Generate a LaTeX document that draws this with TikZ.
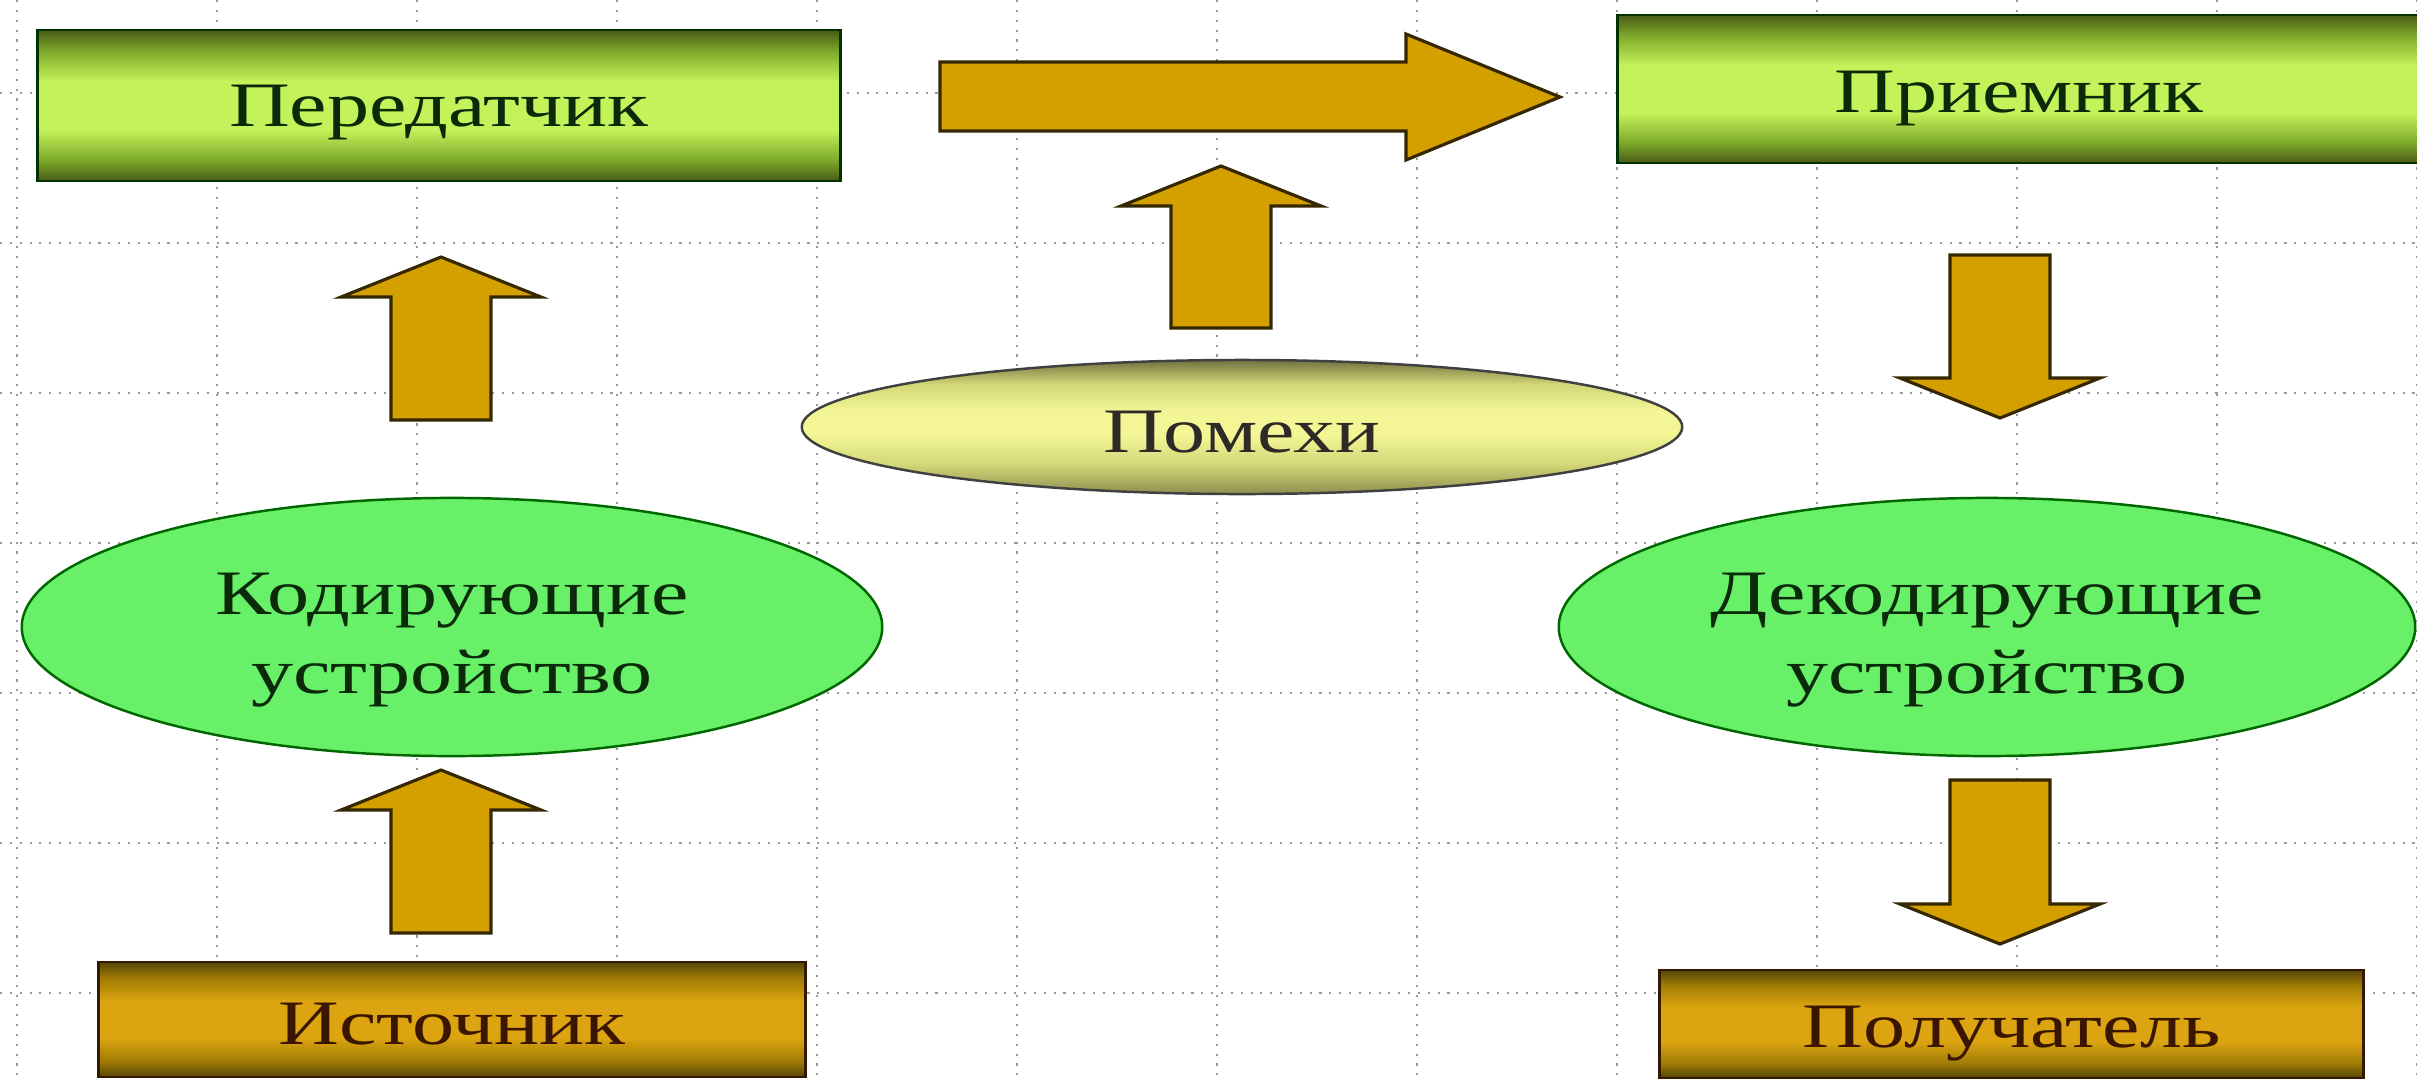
\documentclass[tikz,border=0pt]{standalone}
\usepackage{fontspec}
\usepackage{graphicx}
\setmainfont{Liberation Serif}
\usetikzlibrary{shapes.geometric}
\definecolor{gdark}{HTML}{4A5A16}
\definecolor{gmid}{HTML}{7DAA2A}
\definecolor{glight}{HTML}{C4F25A}
\definecolor{odark}{HTML}{544406}
\definecolor{omid}{HTML}{A07C06}
\definecolor{olight}{HTML}{DCA410}
\definecolor{ydark}{HTML}{8E8E50}
\definecolor{ymid}{HTML}{D2D676}
\definecolor{ylight}{HTML}{F4F696}
\definecolor{ellgreen}{HTML}{68F068}
\definecolor{arrowgold}{HTML}{D4A000}
\definecolor{txtgreen}{HTML}{0A2A0A}
\definecolor{txtbrown}{HTML}{3A1600}
% TikZ maps the path onto the band 25bp..75bp of a 100bp shading
\pgfdeclareverticalshading{greenbar}{100bp}{color(0bp)=(gdark); color(25bp)=(gdark); color(32bp)=(gmid); color(42bp)=(glight); color(58bp)=(glight); color(68bp)=(gmid); color(75bp)=(gdark); color(100bp)=(gdark)}
\pgfdeclareverticalshading{goldbar}{100bp}{color(0bp)=(odark); color(25bp)=(odark); color(32bp)=(omid); color(42bp)=(olight); color(58bp)=(olight); color(68bp)=(omid); color(75bp)=(odark); color(100bp)=(odark)}
\pgfdeclareverticalshading{yellowell}{100bp}{color(0bp)=(ydark); color(25bp)=(ydark); color(36bp)=(ymid); color(47bp)=(ylight); color(56bp)=(ylight); color(66bp)=(ymid); color(75bp)=(ydark!80!black); color(100bp)=(ydark!80!black)}
\newcommand{\wide}[1]{\scalebox{1.33}[1]{#1}}
\newcommand{\blkup}[3]{\draw[barrow] (#1-50,#2) -- (#1-50,#3+40) -- (#1-100,#3+40) -- (#1,#3) -- (#1+100,#3+40) -- (#1+50,#3+40) -- (#1+50,#2) -- cycle;}
\newcommand{\blkdown}[3]{\draw[barrow] (#1-50,#2) -- (#1-50,#3-40) -- (#1-100,#3-40) -- (#1,#3) -- (#1+100,#3-40) -- (#1+50,#3-40) -- (#1+50,#2) -- cycle;}
\begin{document}
\begin{tikzpicture}[x=0.01cm,y=-0.01cm,
  gridline/.style={draw=gray!80, line width=0.6pt, dash pattern=on 0.6pt off 2.2pt},
  lbl/.style={font=\fontsize{18}{22.5}\selectfont, align=center, inner sep=0pt},
  greenbox/.style={draw=black!80!green, line width=0.8pt, shading=greenbar},
  goldbox/.style={draw=black!80!orange, line width=0.8pt, shading=goldbar},
  greenell/.style={ellipse, draw=black!60!green, line width=0.7pt, fill=ellgreen},
  yellell/.style={ellipse, draw=black!75, line width=0.7pt, shading=yellowell},
  barrow/.style={fill=arrowgold, draw=black!75!arrowgold, line width=0.9pt, line join=miter}]
\useasboundingbox (0,0) rectangle (2417,1081);
\fill[white] (0,0) rectangle (2417,1081);
% grid
\foreach \x in {17,217,...,2417} \draw[gridline] (\x,0) -- (\x,1081);
\foreach \y in {93,243,...,993} \draw[gridline] (0,\y) -- (2417,\y);
% shapes
\node[greenbox, minimum width=8.02cm, minimum height=1.51cm] (tx) at (439,105.5) {};
\node[greenbox, minimum width=8.02cm, minimum height=1.48cm] (rx) at (2019,89) {};
\node[goldbox, minimum width=7.06cm, minimum height=1.15cm] (src) at (452,1019.5) {};
\node[goldbox, minimum width=7.03cm, minimum height=1.08cm] (dst) at (2011.5,1024) {};
\node[yellell, minimum width=8.80cm, minimum height=1.34cm] (noise) at (1242,427) {};
\node[greenell, minimum width=8.60cm, minimum height=2.58cm] (enc) at (452,627) {};
\node[greenell, minimum width=8.56cm, minimum height=2.58cm] (dec) at (1987,627) {};
% labels
\node[lbl, text=txtgreen] (tx-t) at ([yshift=-0.07cm]tx.center) {\wide{Передатчик}};
\node[lbl, text=txtgreen] (rx-t) at ([yshift=-0.10cm]rx.center) {\wide{Приемник}};
\node[lbl, text=txtbrown] (src-t) at ([yshift=-0.05cm]src.center) {\wide{Источник}};
\node[lbl, text=txtbrown] (dst-t) at ([yshift=-0.10cm]dst.center) {\wide{Получатель}};
\node[lbl, text=black!90!olive] (noise-t) at ([yshift=-0.05cm]noise.center) {\wide{Помехи}};
\node[lbl, text=txtgreen] (enc-t) at ([yshift=-0.13cm]enc.center) {\wide{Кодирующие}\\\wide{устройство}};
\node[lbl, text=txtgreen] (dec-t) at ([yshift=-0.13cm]dec.center) {\wide{Декодирующие}\\\wide{устройство}};
% block arrows
\draw[barrow] (940,62) -- (1406,62) -- (1406,34) -- (1560,97) -- (1406,160) -- (1406,131) -- (940,131) -- cycle;
\blkup{441}{420}{257}
\blkup{441}{933}{770}
\blkup{1221}{328}{166}
\blkdown{2000}{255}{418}
\blkdown{2000}{780}{944}
\end{tikzpicture}
\end{document}
